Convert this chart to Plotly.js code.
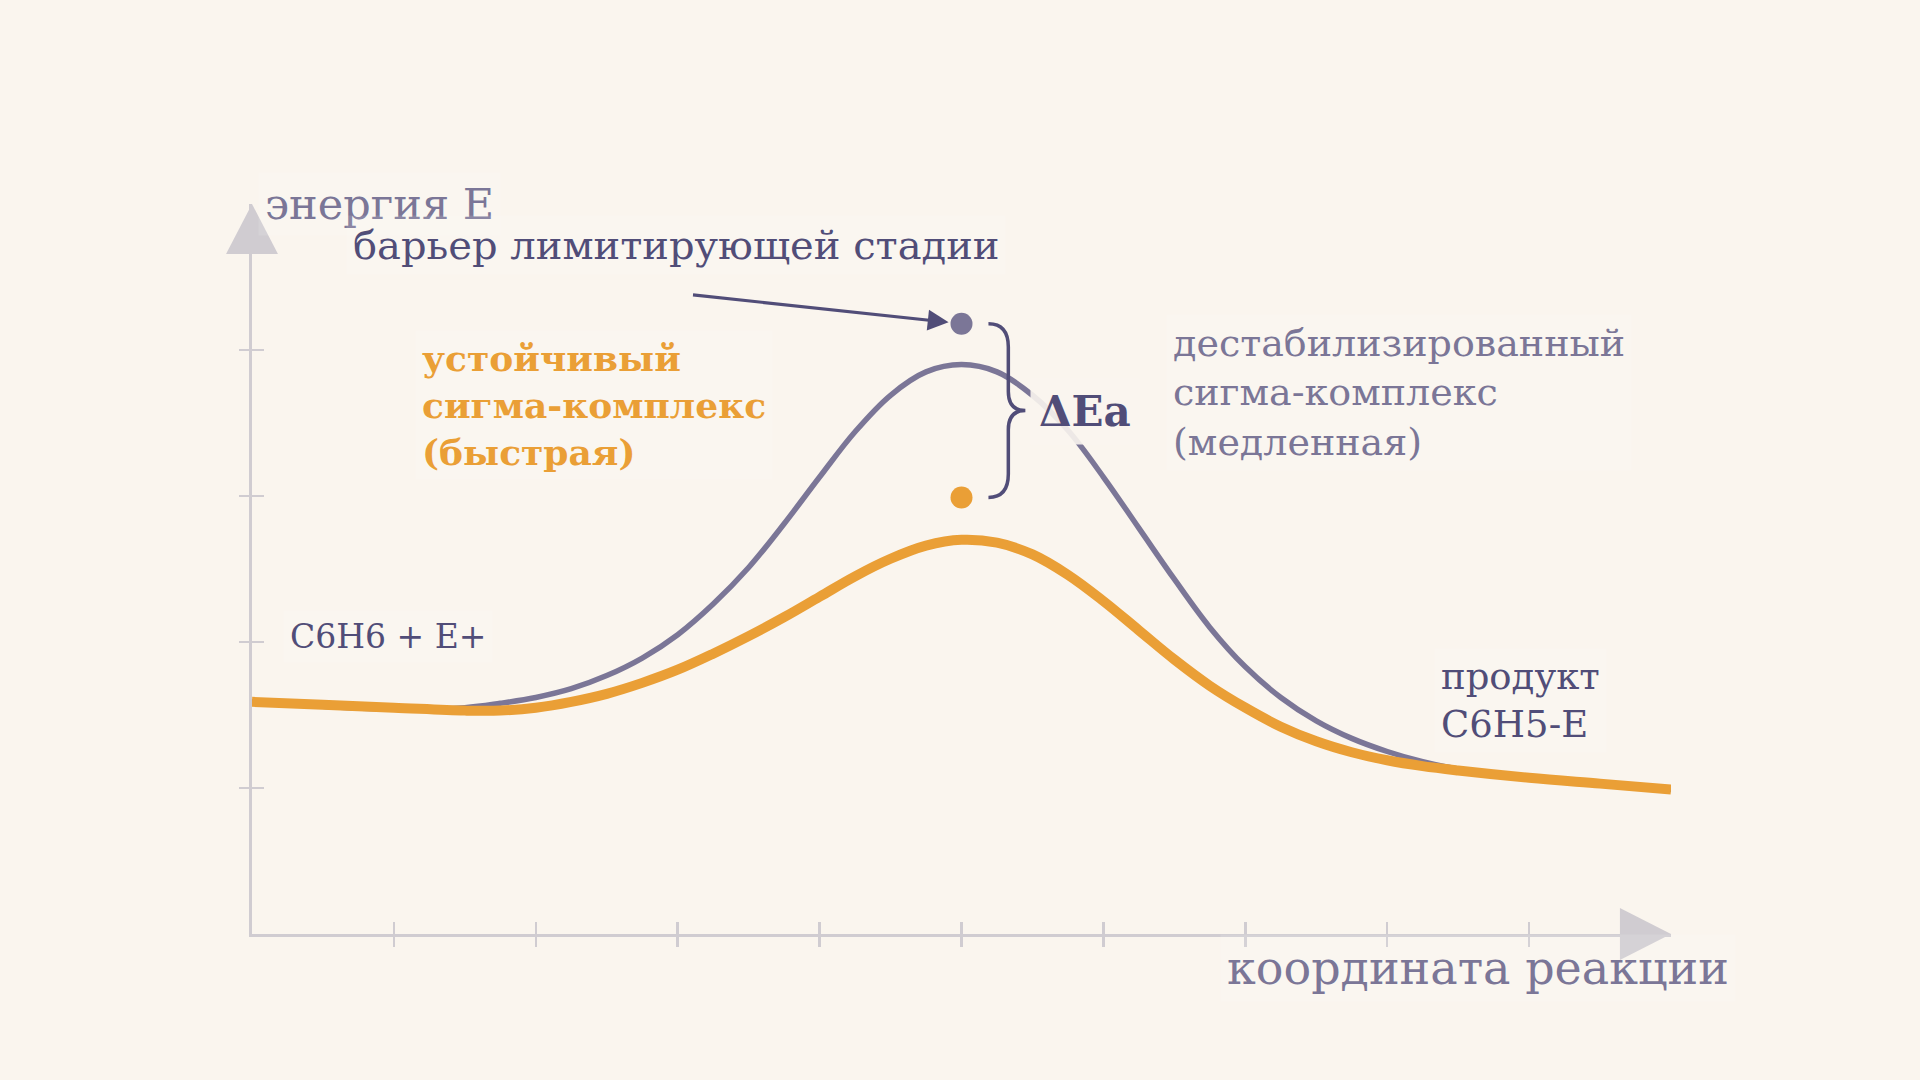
<!DOCTYPE html>
<html>
<head>
<meta charset="utf-8">
<script src="https://cdn.plot.ly/plotly-3.0.1.min.js"></script>
<style>
html, body { margin:0; padding:0; background:#faf5ee; }
#chart { width:1920px; height:1080px; }
</style>
</head>
<body>
<div id="chart"></div>
<script>
// reaction coordinate and the two energy profiles
var coord = [0, 0.5, 1, 1.5, 1.75, 2, 2.25, 2.5, 2.75, 3, 3.25, 3.5, 3.75, 4, 4.25, 4.5, 4.75, 5,
             5.25, 5.5, 5.75, 6, 6.25, 6.5, 6.75, 7, 7.25, 7.5, 7.75, 8, 8.25, 8.5, 9, 9.5, 10];
var slowPath = [1.59, 1.56, 1.54, 1.55, 1.58, 1.62, 1.68, 1.77, 1.89, 2.05, 2.26, 2.51, 2.81, 3.13, 3.44, 3.69, 3.85, 3.90,
                3.85, 3.69, 3.45, 3.13, 2.78, 2.43, 2.10, 1.83, 1.62, 1.46, 1.34, 1.25, 1.18, 1.13, 1.07, 1.03, 0.99];
var fastPath = [1.59, 1.57, 1.55, 1.53, 1.53, 1.55, 1.59, 1.645, 1.72, 1.81, 1.92, 2.04, 2.17, 2.31, 2.45, 2.57, 2.66, 2.70,
                2.68, 2.60, 2.46, 2.28, 2.08, 1.88, 1.70, 1.55, 1.42, 1.32, 1.245, 1.19, 1.15, 1.12, 1.07, 1.03, 0.99];

// the two barrier points (slow, fast)
var barrierX = [5, 5];
var barrierY = [4.18, 2.99];

var tickX = [1, 2, 3, 4, 5, 6, 7, 8, 9];
var tickY = [1, 2, 3, 4];

var bg = '#faf5ee';
var axisGrey = '#d0ccd1';
var orange = '#ea9f36';
var lilac = '#7b7697';
var ink = '#514d78';
var serif = 'DejaVu Serif';

var slow = {
    x: coord, y: slowPath,
    type: 'scatter', mode: 'lines',
    line: { color: lilac, width: 5.5, shape: 'spline', smoothing: 1.05 },
    hoverinfo: 'skip'
};

var fast = {
    x: coord, y: fastPath,
    type: 'scatter', mode: 'lines',
    line: { color: orange, width: 10, shape: 'spline', smoothing: 1.05 },
    hoverinfo: 'skip'
};

var dots = {
    x: barrierX, y: barrierY,
    type: 'scatter', mode: 'markers',
    marker: { size: 22, color: [lilac, orange] },
    hoverinfo: 'skip'
};

// empty trace so the second pair of axes (outer tick halves) gets drawn
var ghost = { x: [], y: [], xaxis: 'x2', yaxis: 'y2', type: 'scatter', mode: 'markers', hoverinfo: 'skip' };

// brace between the two barrier points
var bx0 = barrierX[0] + 0.19, bx1 = barrierX[0] + 0.33, bx2 = barrierX[0] + 0.45;
var braceTop = barrierY[0], braceBot = barrierY[1], braceMid = (braceTop + braceBot) / 2;
var brace = 'M ' + bx0 + ',' + braceTop +
    ' Q ' + bx1 + ',' + braceTop + ' ' + bx1 + ',' + (braceTop - 0.16) +
    ' L ' + bx1 + ',' + (braceMid + 0.13) +
    ' Q ' + bx1 + ',' + braceMid + ' ' + bx2 + ',' + braceMid +
    ' Q ' + bx1 + ',' + braceMid + ' ' + bx1 + ',' + (braceMid - 0.13) +
    ' L ' + bx1 + ',' + (braceBot + 0.16) +
    ' Q ' + bx1 + ',' + braceBot + ' ' + bx0 + ',' + braceBot;

var boxBg = 'rgba(255,255,255,0.12)';

function label(text, x, y, size, color, anchor, extra) {
    var a = {
        text: text, x: x, y: y, xref: 'x', yref: 'y',
        xanchor: anchor || 'left', yanchor: 'middle', align: 'left',
        showarrow: false, bgcolor: boxBg, borderpad: 6,
        font: { family: serif, size: size, color: color }
    };
    for (var k in extra) a[k] = extra[k];
    return a;
}

var layout = {
    width: 1920, height: 1080,
    paper_bgcolor: bg, plot_bgcolor: bg,
    showlegend: false,
    margin: { l: 252, r: 249, t: 204, b: 146, pad: 0 },
    xaxis: {
        range: [0, 10], showgrid: false, zeroline: false,
        showline: true, linecolor: axisGrey, linewidth: 3,
        tickvals: tickX, ticks: 'inside', ticklen: 12, tickwidth: 2.5, tickcolor: axisGrey,
        showticklabels: false, fixedrange: true
    },
    yaxis: {
        range: [0, 5], showgrid: false, zeroline: false,
        showline: true, linecolor: axisGrey, linewidth: 3,
        tickvals: tickY, ticks: 'inside', ticklen: 12, tickwidth: 2.5, tickcolor: axisGrey,
        showticklabels: false, fixedrange: true
    },
    xaxis2: {
        range: [0, 10], overlaying: 'x', anchor: 'y', side: 'bottom',
        showgrid: false, zeroline: false, showline: false,
        tickvals: tickX, ticks: 'outside', ticklen: 12, tickwidth: 2.5, tickcolor: axisGrey,
        showticklabels: false, fixedrange: true
    },
    yaxis2: {
        range: [0, 5], overlaying: 'y', anchor: 'x', side: 'left',
        showgrid: false, zeroline: false, showline: false,
        tickvals: tickY, ticks: 'outside', ticklen: 12, tickwidth: 2.5, tickcolor: axisGrey,
        showticklabels: false, fixedrange: true
    },
    shapes: [
        // axis arrowheads
        { type: 'path', xref: 'paper', yref: 'paper', path: 'M 1,0 L 0.964,0.0356 L 0.964,-0.0356 Z',
          fillcolor: axisGrey, line: { width: 0 } },
        { type: 'path', xref: 'paper', yref: 'paper', path: 'M 0,1 L -0.0183,0.9315 L 0.0183,0.9315 Z',
          fillcolor: axisGrey, line: { width: 0 } },
        { type: 'path', xref: 'x', yref: 'y', path: brace, line: { color: ink, width: 3.5 } }
    ],
    annotations: [
        label('энергия E', 0.004, 1.0, 43, lilac, 'left', { xref: 'paper', yref: 'paper' }),
        label('барьер лимитирующей стадии', 0.66, 4.72, 40, ink),
        {
            x: barrierX[0], y: barrierY[0], xref: 'x', yref: 'y',
            ax: -270, ay: -29, axref: 'pixel', ayref: 'pixel',
            text: '', showarrow: true, arrowhead: 2, arrowsize: 1.3, arrowwidth: 3.2,
            arrowcolor: ink, standoff: 13
        },
        label('<b>устойчивый<br>сигма-комплекс<br>(быстрая)</b>', 1.15, 3.62, 36, orange),
        label('<b>ΔEa</b>', 5.48, 3.58, 42, ink, 'left', { bgcolor: 'rgba(250,245,238,0.9)', borderpad: 8 }),
        label('дестабилизированный<br>сигма-комплекс<br>(медленная)', 6.44, 3.71, 38, lilac),
        label('C6H6 + E+', 0.22, 2.04, 33, ink),
        label('продукт<br>C6H5-E', 8.33, 1.60, 37, ink),
        label('координата реакции', 1.046, -0.047, 46, lilac, 'right', { xref: 'paper', yref: 'paper' })
    ]
};

Plotly.newPlot('chart', [slow, fast, dots, ghost], layout, { displayModeBar: false, staticPlot: true });
</script>
</body>
</html>
